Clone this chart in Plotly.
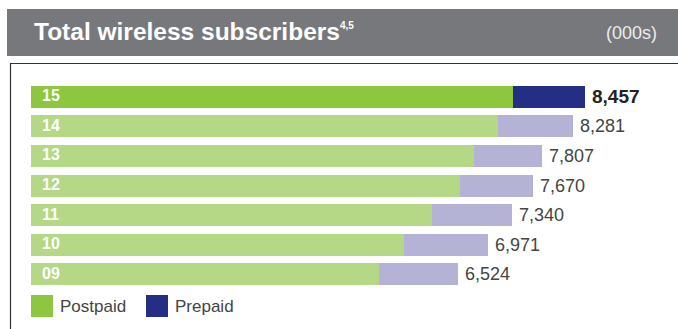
import plotly.graph_objects as go

years = ["09", "10", "11", "12", "13", "14", "15"]
totals = [6524, 6971, 7340, 7670, 7807, 8281, 8457]
postpaid = [5307, 5701, 6128, 6541, 6757, 7131, 7359]
prepaid = [t - p for t, p in zip(totals, postpaid)]
total_labels = ["6,524", "6,971", "7,340", "7,670", "7,807", "8,281", "8,457"]

post_colors = ["#b5d886"] * 6 + ["#8dc63f"]
pre_colors = ["#b4b3d6"] * 6 + ["#232e84"]

W, H = 678, 329
ML, MR, MT, MB = 31, 0, 82, 40
PW, PH = W - ML - MR, H - MT - MB


def px(x):
    return (x - ML) / PW


def py(y):
    return (H - MB - y) / PH


FONT = "Liberation Sans, Arial, sans-serif"

fig = go.Figure()
fig.add_trace(go.Bar(y=years, x=postpaid, orientation="h", name="Postpaid",
                     marker=dict(color=post_colors, line=dict(width=0)),
                     showlegend=False, hoverinfo="x"))
fig.add_trace(go.Bar(y=years, x=prepaid, orientation="h", name="Prepaid",
                     marker=dict(color=pre_colors, line=dict(width=0)),
                     showlegend=False, hoverinfo="x"))

annotations = []
for i, (yr, tot, lab) in enumerate(zip(years, totals, total_labels)):
    last = i == len(years) - 1
    annotations.append(dict(x=0, y=i, xref="x", yref="y", text=f"<b>{yr}</b>",
                            showarrow=False, xanchor="left", yanchor="middle",
                            xshift=9, yshift=1,
                            font=dict(family=FONT, size=16, color="white")))
    annotations.append(dict(x=tot, y=i, xref="x", yref="y",
                            text=f"<b>{lab}</b>" if last else lab,
                            showarrow=False, xanchor="left", yanchor="middle",
                            xshift=5, yshift=0,
                            font=dict(family=FONT, size=19 if last else 18,
                                      color="#222222" if last else "#444444")))

# header
annotations.append(dict(x=px(32), y=py(31), xref="paper", yref="paper",
                        text="<b>Total wireless subscribers</b>",
                        showarrow=False, xanchor="left", yanchor="middle",
                        font=dict(family=FONT, size=24.5, color="white")))
annotations.append(dict(x=px(338), y=py(18), xref="paper", yref="paper",
                        text="<b>4,5</b>",
                        showarrow=False, xanchor="left", yanchor="top",
                        font=dict(family=FONT, size=10, color="white")))
annotations.append(dict(x=px(659), y=py(33), xref="paper", yref="paper",
                        text="(000s)", showarrow=False, xanchor="right", yanchor="middle",
                        font=dict(family=FONT, size=18, color="#ececec")))
# legend text
annotations.append(dict(x=px(58), y=py(306), xref="paper", yref="paper",
                        text="Postpaid", showarrow=False, xanchor="left", yanchor="middle",
                        font=dict(family=FONT, size=17, color="#444444")))
annotations.append(dict(x=px(173), y=py(306), xref="paper", yref="paper",
                        text="Prepaid", showarrow=False, xanchor="left", yanchor="middle",
                        font=dict(family=FONT, size=17, color="#444444")))

shapes = [
    dict(type="rect", xref="paper", yref="paper", x0=px(7), x1=px(679), y0=py(56), y1=py(9),
         fillcolor="#77787b", line=dict(width=0), layer="below"),
    dict(type="line", xref="paper", yref="paper", x0=px(10), x1=px(679), y0=py(63.5), y1=py(63.5),
         line=dict(color="#333333", width=1.2)),
    dict(type="line", xref="paper", yref="paper", x0=px(10.5), x1=px(10.5), y0=py(63), y1=py(335),
         line=dict(color="#333333", width=1.2)),
    dict(type="rect", xref="paper", yref="paper", x0=px(31), x1=px(53), y0=py(317), y1=py(295),
         fillcolor="#8dc63f", line=dict(width=0)),
    dict(type="rect", xref="paper", yref="paper", x0=px(146), x1=px(168), y0=py(317), y1=py(295),
         fillcolor="#232e84", line=dict(width=0)),
]

fig.update_layout(
    width=W, height=H, barmode="stack", bargap=0.256,
    margin=dict(l=ML, r=MR, t=MT, b=MB, pad=0),
    paper_bgcolor="white", plot_bgcolor="white",
    xaxis=dict(range=[0, PW / 0.06551], visible=False, fixedrange=True),
    yaxis=dict(type="category", categoryorder="array", categoryarray=years,
               range=[-0.5, 6.5], visible=False, fixedrange=True),
    annotations=annotations, shapes=shapes, showlegend=False,
)

fig.write_html("out.html", config={"displayModeBar": False})
